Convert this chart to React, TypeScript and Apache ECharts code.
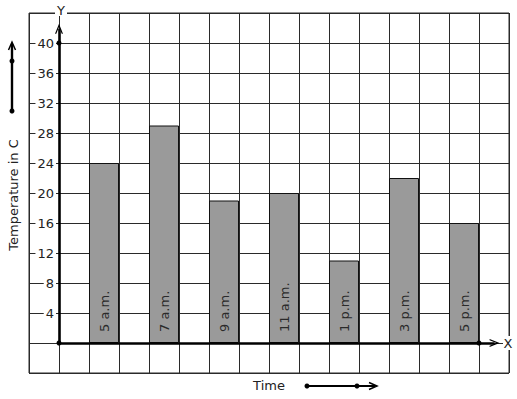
import React, { useEffect, useRef } from 'react';
import * as echarts from 'echarts';

const times = ['5 a.m.', '7 a.m.', '9 a.m.', '11 a.m.', '1 p.m.', '3 p.m.', '5 p.m.'];
const temperatures = [24, 29, 19, 20, 11, 22, 16];
const yTickLabels = [4, 8, 12, 16, 20, 24, 28, 32, 36, 40];

const FONT = 'DejaVu Sans';
const CHEVRON = 'path://M0,10 L5,0 L10,10 L8.4,10 L5,3.2 L1.6,10 Z';

export default function App() {
  const ref = useRef<HTMLDivElement>(null);
  useEffect(() => {
    if (!ref.current) return;
    const chart = echarts.init(ref.current, undefined, { renderer: 'svg' });
    const option: any = {
      animation: false,
      backgroundColor: '#fff',
      grid: {
        left: 29,
        top: 13,
        width: 480,
        height: 360,
        show: true,
        borderColor: '#2a2a2a',
        borderWidth: 1,
      },
      xAxis: {
        type: 'value',
        min: -1,
        max: 15,
        interval: 1,
        axisLine: { show: false },
        axisTick: { show: false },
        axisLabel: { show: false },
        splitLine: { show: true, lineStyle: { color: '#2a2a2a', width: 1 } },
      },
      yAxis: {
        type: 'value',
        min: -4,
        max: 44,
        interval: 4,
        axisLine: { show: false },
        axisTick: { show: false },
        splitLine: { show: true, lineStyle: { color: '#2a2a2a', width: 1 } },
        axisLabel: {
          inside: true,
          margin: 27,
          align: 'right',
          verticalAlign: 'middle',
          formatter: (v: number) => (yTickLabels.includes(v) ? `{t|${v}}` : ''),
          rich: {
            t: {
              backgroundColor: '#fff',
              padding: [1, 2, 1, 2],
              color: '#222',
              fontFamily: FONT,
              fontSize: 13,
            },
          },
        },
      },
      series: [
        {
          type: 'bar',
          data: temperatures.map((t, i) => [1.5 + 2 * i, t]),
          barWidth: 30,
          itemStyle: { color: '#9a9a9a', borderColor: '#111', borderWidth: 1 },
          label: {
            show: true,
            position: 'insideBottom',
            rotate: 90,
            align: 'left',
            verticalAlign: 'middle',
            distance: 11,
            formatter: (p: any) => times[p.dataIndex],
            color: '#2a2a2a',
            fontFamily: FONT,
            fontSize: 13,
          },
          markLine: {
            silent: true,
            symbol: ['none', CHEVRON],
            symbolSize: [8, 10],
            label: { show: false },
            lineStyle: { color: '#000', width: 2.6, type: 'solid' },
            data: [
              [{ coord: [0, 0] }, { coord: [0, 41.9] }],
              [{ coord: [0, 0] }, { coord: [14.52, 0] }],
            ],
          },
          markPoint: {
            silent: true,
            symbol: 'circle',
            symbolSize: 5,
            itemStyle: { color: '#000' },
            label: { show: false },
            data: [{ coord: [0, 40] }, { coord: [0, 0] }, { coord: [14, 0] }],
          },
        },
      ],
      graphic: [
        { type: 'rect', shape: { x: 55, y: 10, width: 12, height: 6 }, style: { fill: '#fff' }, z: 100 },
        {
          type: 'text', x: 61, y: 10, z: 101,
          style: { text: 'Y', font: `13px "${FONT}"`, fill: '#222', align: 'center', verticalAlign: 'middle' },
        },
        { type: 'rect', shape: { x: 503, y: 336, width: 12, height: 14 }, style: { fill: '#fff' }, z: 100 },
        {
          type: 'text', x: 508, y: 343, z: 101,
          style: { text: 'X', font: `13px "${FONT}"`, fill: '#222', align: 'center', verticalAlign: 'middle' },
        },
        {
          type: 'text', x: 13, y: 195, rotation: Math.PI / 2, z: 101,
          style: { text: 'Temperature in C', font: `13px "${FONT}"`, fill: '#222', align: 'center', verticalAlign: 'middle' },
        },
        {
          type: 'text', x: 269, y: 385, z: 101,
          style: { text: 'Time', font: `13px "${FONT}"`, fill: '#222', align: 'center', verticalAlign: 'middle' },
        },
        // left arrow
        { type: 'line', shape: { x1: 12, y1: 111, x2: 12, y2: 44 }, style: { stroke: '#000', lineWidth: 2.4 }, z: 101 },
        { type: 'polyline', shape: { points: [[8.5, 50], [12, 42], [15.5, 50]] }, style: { stroke: '#000', lineWidth: 1.5, fill: 'none' }, z: 101 },
        { type: 'circle', shape: { cx: 12, cy: 61, r: 2.5 }, style: { fill: '#000' }, z: 102 },
        { type: 'circle', shape: { cx: 12, cy: 111, r: 2.5 }, style: { fill: '#000' }, z: 102 },
        // bottom arrow
        { type: 'line', shape: { x1: 307, y1: 386, x2: 375, y2: 386 }, style: { stroke: '#000', lineWidth: 1.8 }, z: 101 },
        { type: 'polyline', shape: { points: [[369, 382.5], [377, 386], [369, 389.5]] }, style: { stroke: '#000', lineWidth: 1.5, fill: 'none' }, z: 101 },
        { type: 'circle', shape: { cx: 307, cy: 386, r: 2.5 }, style: { fill: '#000' }, z: 102 },
        { type: 'circle', shape: { cx: 357, cy: 386, r: 2.5 }, style: { fill: '#000' }, z: 102 },
      ],
    };
    chart.setOption(option);
    return () => chart.dispose();
  }, []);
  return (
    <div
      ref={ref}
      style={{ position: 'fixed', left: 0, top: 0, width: 517, height: 399 }}
    />
  );
}
